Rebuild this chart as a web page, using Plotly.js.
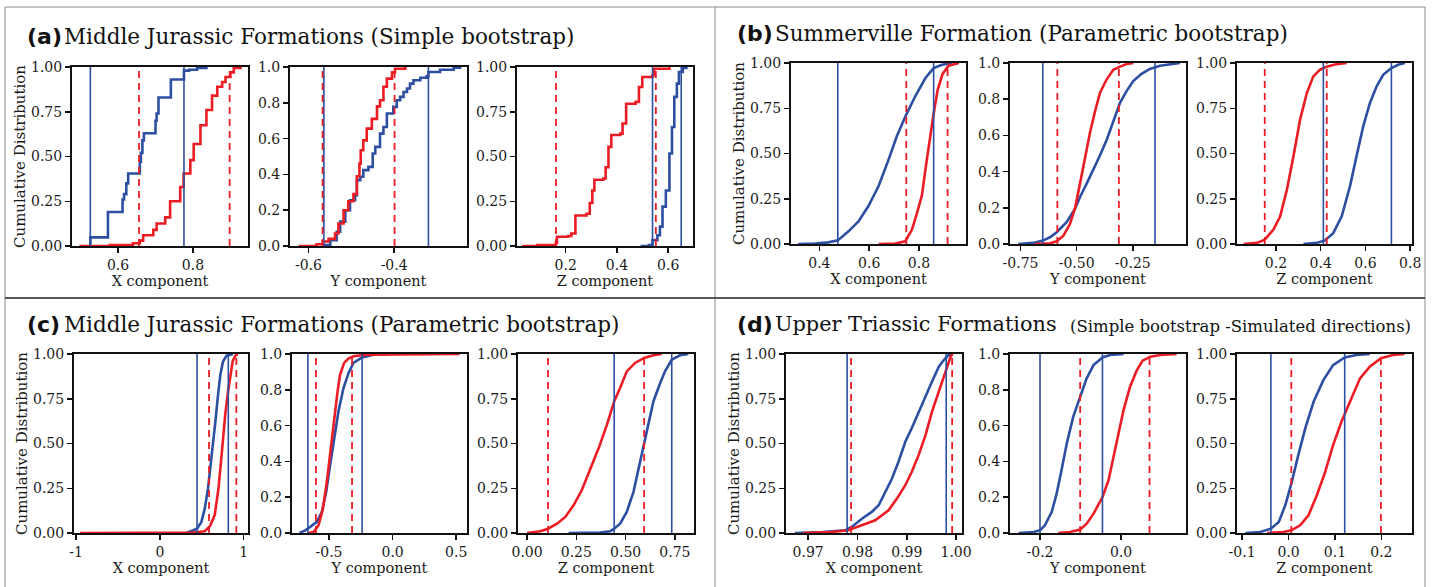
<!DOCTYPE html>
<html><head><meta charset="utf-8">
<script src="https://cdn.plot.ly/plotly-3.0.1.min.js"></script>
<style>html,body{margin:0;padding:0;background:#fff}</style>
</head><body><div id="chart" style="width:1438px;height:587px"></div>
<script>
// ---------- Panel (a): Middle Jurassic Formations (Simple bootstrap) ----------
const a1_blue_x = [0.522, 0.526, 0.573, 0.612, 0.616, 0.622, 0.627, 0.658, 0.661, 0.665, 0.669, 0.700, 0.703, 0.708, 0.741, 0.776, 0.790, 0.811, 0.836];
const a1_blue_y = [0, 0.048, 0.19, 0.26, 0.29, 0.35, 0.405, 0.47, 0.52, 0.59, 0.63, 0.70, 0.74, 0.83, 0.93, 0.98, 0.985, 0.995, 1.0];
const a1_red_x = [0.497, 0.578, 0.640, 0.658, 0.667, 0.694, 0.703, 0.726, 0.739, 0.766, 0.775, 0.793, 0.802, 0.820, 0.836, 0.851, 0.865, 0.878, 0.887, 0.900, 0.909, 0.927];
const a1_red_y = [0, 0.005, 0.015, 0.03, 0.06, 0.09, 0.126, 0.16, 0.25, 0.33, 0.405, 0.48, 0.57, 0.675, 0.76, 0.84, 0.89, 0.916, 0.944, 0.97, 0.995, 1.0];
const a1_blue_ci = [0.526, 0.776];
const a1_red_ci = [0.656, 0.898];
const a1_xticks = [0.6, 0.8];

const a2_blue_x = [-0.565, -0.549, -0.534, -0.526, -0.514, -0.503, -0.491, -0.487, -0.479, -0.472, -0.460, -0.450, -0.444, -0.433, -0.425, -0.417, -0.402, -0.394, -0.386, -0.378, -0.370, -0.363, -0.355, -0.339, -0.324, -0.320, -0.293, -0.261, -0.246];
const a2_blue_y = [0.005, 0.033, 0.08, 0.136, 0.2, 0.256, 0.284, 0.368, 0.387, 0.424, 0.442, 0.517, 0.554, 0.628, 0.665, 0.74, 0.777, 0.814, 0.833, 0.86, 0.88, 0.907, 0.926, 0.94, 0.948, 0.972, 0.985, 0.996, 1.0];
const a2_red_x = [-0.623, -0.581, -0.567, -0.553, -0.538, -0.530, -0.518, -0.507, -0.495, -0.487, -0.481, -0.478, -0.472, -0.464, -0.452, -0.440, -0.433, -0.425, -0.417, -0.405, -0.398, -0.374];
const a2_red_y = [0, 0.01, 0.025, 0.04, 0.07, 0.126, 0.2, 0.25, 0.29, 0.39, 0.46, 0.535, 0.59, 0.656, 0.71, 0.78, 0.814, 0.89, 0.935, 0.97, 0.99, 1.0];
const a2_blue_ci = [-0.564, -0.320];
const a2_red_ci = [-0.567, -0.399];
const a2_xticks = [-0.6, -0.4];

const a3_blue_x = [0.492, 0.525, 0.539, 0.558, 0.568, 0.578, 0.591, 0.605, 0.615, 0.624, 0.634, 0.642, 0.657, 0.671];
const a3_blue_y = [0, 0.006, 0.033, 0.06, 0.108, 0.22, 0.31, 0.517, 0.665, 0.833, 0.907, 0.972, 0.994, 1.0];
const a3_red_x = [0.030, 0.090, 0.162, 0.166, 0.209, 0.222, 0.238, 0.281, 0.294, 0.304, 0.312, 0.347, 0.356, 0.367, 0.378, 0.413, 0.422, 0.436, 0.473, 0.486, 0.499, 0.539, 0.545, 0.605];
const a3_red_y = [0, 0.006, 0.019, 0.052, 0.056, 0.07, 0.17, 0.18, 0.24, 0.31, 0.37, 0.377, 0.44, 0.554, 0.62, 0.628, 0.684, 0.795, 0.805, 0.888, 0.944, 0.954, 0.99, 1.0];
const a3_blue_ci = [0.539, 0.651];
const a3_red_ci = [0.162, 0.552];
const a3_xticks = [0.2, 0.4, 0.6];

// ---------- Panel (b): Summerville Formation (Parametric bootstrap) ----------
const b1_blue_x = [0.315, 0.383, 0.436, 0.474, 0.517, 0.557, 0.597, 0.638, 0.678, 0.711, 0.749, 0.785, 0.826, 0.859, 0.893, 0.933];
const b1_blue_y = [0, 0.002, 0.009, 0.02, 0.07, 0.125, 0.21, 0.32, 0.466, 0.595, 0.715, 0.816, 0.917, 0.972, 0.99, 1.0];
const b1_red_x = [0.638, 0.705, 0.745, 0.772, 0.792, 0.812, 0.830, 0.845, 0.859, 0.875, 0.895, 0.919, 0.960];
const b1_red_y = [0, 0.002, 0.015, 0.08, 0.17, 0.27, 0.45, 0.60, 0.72, 0.85, 0.94, 0.985, 1.0];
const b1_blue_ci = [0.474, 0.859];
const b1_red_ci = [0.749, 0.915];
const b1_xticks = [0.4, 0.6, 0.8];

const b2_blue_x = [-0.760, -0.693, -0.651, -0.619, -0.589, -0.545, -0.507, -0.485, -0.455, -0.426, -0.396, -0.366, -0.337, -0.307, -0.277, -0.248, -0.211, -0.174, -0.129, -0.070, -0.040];
const b2_blue_y = [0, 0.006, 0.019, 0.037, 0.065, 0.12, 0.195, 0.26, 0.335, 0.41, 0.49, 0.576, 0.678, 0.78, 0.846, 0.90, 0.94, 0.967, 0.985, 0.996, 1.0];
const b2_red_x = [-0.685, -0.619, -0.589, -0.559, -0.530, -0.507, -0.485, -0.463, -0.441, -0.418, -0.396, -0.366, -0.337, -0.307, -0.277, -0.248];
const b2_red_y = [0, 0.004, 0.015, 0.046, 0.11, 0.20, 0.335, 0.483, 0.613, 0.734, 0.836, 0.91, 0.963, 0.98, 0.994, 1.0];
const b2_blue_ci = [-0.651, -0.151];
const b2_red_ci = [-0.586, -0.312];
const b2_xticks = [-0.75, -0.5, -0.25];

const b3_blue_x = [0.323, 0.382, 0.419, 0.456, 0.494, 0.531, 0.560, 0.590, 0.620, 0.650, 0.679, 0.716, 0.746, 0.776];
const b3_blue_y = [0, 0.006, 0.02, 0.06, 0.153, 0.32, 0.484, 0.65, 0.779, 0.871, 0.935, 0.972, 0.99, 1.0];
const b3_red_x = [0.055, 0.115, 0.150, 0.189, 0.219, 0.249, 0.278, 0.308, 0.338, 0.367, 0.397, 0.427, 0.471, 0.516];
const b3_red_y = [0, 0.006, 0.024, 0.08, 0.153, 0.30, 0.484, 0.687, 0.834, 0.926, 0.963, 0.98, 0.994, 1.0];
const b3_blue_ci = [0.412, 0.716];
const b3_red_ci = [0.150, 0.427];
const b3_xticks = [0.2, 0.4, 0.6, 0.8];

// ---------- Panel (c): Middle Jurassic Formations (Parametric bootstrap) ----------
const c1_blue_x = [0.317, 0.397, 0.444, 0.496, 0.536, 0.575, 0.603, 0.635, 0.667, 0.694, 0.722, 0.754, 0.794, 0.873];
const c1_blue_y = [0, 0.015, 0.024, 0.062, 0.136, 0.249, 0.36, 0.49, 0.64, 0.77, 0.884, 0.958, 0.99, 1.0];
const c1_red_x = [-0.952, 0.40, 0.536, 0.60, 0.655, 0.70, 0.74, 0.78, 0.817, 0.845, 0.87, 0.90, 0.93];
const c1_red_y = [0, 0.002, 0.01, 0.04, 0.10, 0.25, 0.45, 0.66, 0.80, 0.90, 0.96, 0.99, 1.0];
const c1_blue_ci = [0.444, 0.817];
const c1_red_ci = [0.587, 0.913];
const c1_xticks = [-1, 0, 1];

const c2_blue_x = [-0.731, -0.687, -0.648, -0.595, -0.556, -0.522, -0.491, -0.460, -0.426, -0.386, -0.347, -0.308, -0.240, -0.151, -0.047];
const c2_blue_y = [0, 0.015, 0.034, 0.062, 0.118, 0.23, 0.38, 0.529, 0.679, 0.81, 0.893, 0.95, 0.981, 0.996, 1.0];
const c2_red_x = [-0.661, -0.621, -0.582, -0.548, -0.517, -0.486, -0.460, -0.433, -0.413, -0.381, -0.347, -0.308, -0.204, 0.527];
const c2_red_y = [0, 0.006, 0.043, 0.136, 0.286, 0.473, 0.641, 0.79, 0.884, 0.95, 0.974, 0.987, 0.996, 1.0];
const c2_blue_ci = [-0.666, -0.240];
const c2_red_ci = [-0.603, -0.319];
const c2_xticks = [-0.5, 0, 0.5];

const c3_blue_x = [0.211, 0.371, 0.422, 0.442, 0.472, 0.506, 0.54, 0.573, 0.594, 0.616, 0.641, 0.675, 0.70, 0.734, 0.776, 0.818];
const c3_blue_y = [0, 0.002, 0.01, 0.024, 0.052, 0.118, 0.23, 0.398, 0.51, 0.622, 0.735, 0.837, 0.903, 0.968, 0.993, 1.0];
const c3_red_x = [0.0, 0.067, 0.106, 0.152, 0.194, 0.236, 0.278, 0.32, 0.363, 0.405, 0.442, 0.472, 0.506, 0.548, 0.594, 0.641, 0.683];
const c3_red_y = [0, 0.01, 0.024, 0.052, 0.09, 0.155, 0.24, 0.35, 0.473, 0.604, 0.735, 0.81, 0.903, 0.95, 0.978, 0.993, 1.0];
const c3_blue_ci = [0.442, 0.734];
const c3_red_ci = [0.106, 0.594];
const c3_xticks = [0, 0.25, 0.5, 0.75];

// ---------- Panel (d): Upper Triassic Formations (Simple bootstrap - simulated directions) ----------
const d1_blue_x = [0.9673, 0.973, 0.9775, 0.9788, 0.9809, 0.9829, 0.9843, 0.9856, 0.987, 0.9883, 0.9897, 0.991, 0.9924, 0.9938, 0.9951, 0.9965, 0.9975, 0.9985, 0.9992];
const d1_blue_y = [0, 0.006, 0.015, 0.034, 0.08, 0.118, 0.155, 0.23, 0.304, 0.397, 0.51, 0.585, 0.677, 0.77, 0.845, 0.929, 0.966, 0.994, 1.0];
const d1_red_x = [0.969, 0.9748, 0.9781, 0.9809, 0.9836, 0.9863, 0.988, 0.9897, 0.991, 0.9924, 0.9938, 0.9951, 0.9965, 0.9978, 0.9989, 0.9993];
const d1_red_y = [0, 0.006, 0.015, 0.043, 0.071, 0.127, 0.192, 0.267, 0.341, 0.435, 0.547, 0.677, 0.789, 0.901, 0.985, 1.0];
const d1_blue_ci = [0.9779, 0.998];
const d1_red_ci = [0.9787, 0.9992];
const d1_xticks = [0.97, 0.98, 0.99, 1.0];

const d2_blue_x = [-0.253, -0.216, -0.200, -0.188, -0.171, -0.159, -0.147, -0.134, -0.118, -0.101, -0.085, -0.068, -0.046, -0.027, 0.006];
const d2_blue_y = [0, 0.006, 0.015, 0.043, 0.118, 0.22, 0.35, 0.5, 0.65, 0.761, 0.864, 0.938, 0.981, 0.994, 1.0];
const d2_red_x = [-0.155, -0.126, -0.101, -0.085, -0.068, -0.046, -0.031, -0.019, -0.007, 0.006, 0.022, 0.039, 0.053, 0.072, 0.096, 0.137];
const d2_red_y = [0, 0.006, 0.019, 0.052, 0.108, 0.2, 0.295, 0.425, 0.556, 0.687, 0.817, 0.91, 0.963, 0.985, 0.994, 1.0];
const d2_blue_ci = [-0.200, -0.046];
const d2_red_ci = [-0.101, 0.070];
const d2_xticks = [-0.2, 0];

const d3_blue_x = [-0.093, -0.061, -0.038, -0.021, -0.007, 0.007, 0.021, 0.036, 0.054, 0.075, 0.096, 0.121, 0.146, 0.175];
const d3_blue_y = [0, 0.006, 0.024, 0.062, 0.155, 0.285, 0.435, 0.584, 0.733, 0.854, 0.938, 0.981, 0.994, 1.0];
const d3_red_x = [-0.046, -0.011, 0.006, 0.025, 0.043, 0.061, 0.079, 0.096, 0.114, 0.132, 0.154, 0.175, 0.199, 0.225, 0.25];
const d3_red_y = [0, 0.006, 0.015, 0.043, 0.099, 0.211, 0.341, 0.491, 0.621, 0.733, 0.864, 0.929, 0.976, 0.994, 1.0];
const d3_blue_ci = [-0.038, 0.121];
const d3_red_ci = [0.006, 0.199];
const d3_xticks = [-0.1, 0, 0.1, 0.2];

const yticks_quarter = [0, 0.25, 0.5, 0.75, 1];
const yticks_fifth = [0, 0.2, 0.4, 0.6, 0.8, 1];

const panel_labels = ['(a)', '(b)', '(c)', '(d)'];
const panel_titles = ['Middle Jurassic Formations (Simple bootstrap)', 'Summerville Formation (Parametric bootstrap)', 'Middle Jurassic Formations (Parametric bootstrap)', 'Upper Triassic Formations'];
const panel_d_subtitle = '(Simple bootstrap -Simulated directions)';
const x_titles = ['X component', 'Y component', 'Z component'];
const y_title = 'Cumulative Distribution';

// ---------- drawing ----------
const W = 1438, H = 587;
const BLUE = '#2c4fa1', RED = '#ec1c24';
const FONT = 'DejaVu Serif';
const traces = [];
const layout = {
  width: W, height: H, margin: {l: 0, r: 0, t: 0, b: 0},
  paper_bgcolor: '#fff', plot_bgcolor: '#fff', showlegend: false,
  annotations: [], shapes: []
};
const axCommon = {
  showline: true, mirror: true, linecolor: '#111', linewidth: 2,
  ticks: 'outside', ticklen: 5, tickwidth: 1.5, tickcolor: '#111',
  showgrid: false, zeroline: false, fixedrange: true, layer: 'below traces',
  tickfont: {family: FONT, size: 14, color: '#1a1a1a'}
};
let n = 0;
function sub(box, xr, xticks, xdec, yticks, ydec, xtitle, showY, shape, bx, by, rx, ry, bci, rci) {
  n += 1;
  const s = n === 1 ? '' : String(n);
  layout['xaxis' + s] = Object.assign({}, axCommon, {
    domain: [box[0] / W, box[1] / W], anchor: 'y' + s, range: xr,
    tickmode: 'array', tickvals: xticks, ticktext: xticks.map(v => v.toFixed(xdec)),
    title: {text: xtitle, font: {family: FONT, size: 14.5, color: '#1a1a1a'}, standoff: 4}
  });
  layout['yaxis' + s] = Object.assign({}, axCommon, {
    domain: [1 - box[3] / H, 1 - box[2] / H], anchor: 'x' + s, range: [0, 1],
    tickmode: 'array', tickvals: yticks, ticktext: yticks.map(v => v.toFixed(ydec)),
    title: showY ? {text: y_title, font: {family: FONT, size: 15, color: '#1a1a1a'}, standoff: 2} : {text: ''}
  });
  const common = {xaxis: 'x' + s, yaxis: 'y' + s, mode: 'lines', hoverinfo: 'skip'};
  traces.push(Object.assign({x: bx, y: by, line: {color: BLUE, width: 2.6, shape: shape}}, common));
  traces.push(Object.assign({x: rx, y: ry, line: {color: RED, width: 2.6, shape: shape}}, common));
  const bvx = [], bvy = [], rvx = [], rvy = [];
  bci.forEach(v => { bvx.push(v, v, null); bvy.push(0, 1, null); });
  rci.forEach(v => { rvx.push(v, v, null); rvy.push(0, 1, null); });
  traces.push(Object.assign({x: bvx, y: bvy, line: {color: BLUE, width: 1.6}}, common));
  traces.push(Object.assign({x: rvx, y: rvy, line: {color: RED, width: 1.8, dash: '7px,5px'}}, common));
}

// panel a
sub([72, 248, 67, 246], [0.477, 0.947], a1_xticks, 1, yticks_quarter, 2, x_titles[0], true, 'hv', a1_blue_x, a1_blue_y, a1_red_x, a1_red_y, a1_blue_ci, a1_red_ci);
sub([290, 467, 67, 246], [-0.643, -0.230], a2_xticks, 1, yticks_fifth, 1, x_titles[1], false, 'hv', a2_blue_x, a2_blue_y, a2_red_x, a2_red_y, a2_blue_ci, a2_red_ci);
sub([517, 693, 67, 246], [0.01, 0.697], a3_xticks, 1, yticks_quarter, 2, x_titles[2], false, 'hv', a3_blue_x, a3_blue_y, a3_red_x, a3_red_y, a3_blue_ci, a3_red_ci);
// panel b
sub([791, 966, 63, 244], [0.286, 0.989], b1_xticks, 1, yticks_quarter, 2, x_titles[0], true, 'linear', b1_blue_x, b1_blue_y, b1_red_x, b1_red_y, b1_blue_ci, b1_red_ci);
sub([1010, 1186, 63, 244], [-0.797, -0.013], b2_xticks, 2, yticks_fifth, 1, x_titles[1], false, 'linear', b2_blue_x, b2_blue_y, b2_red_x, b2_red_y, b2_blue_ci, b2_red_ci);
sub([1237, 1412, 63, 244], [0.026, 0.808], b3_xticks, 1, yticks_quarter, 2, x_titles[2], false, 'linear', b3_blue_x, b3_blue_y, b3_red_x, b3_red_y, b3_blue_ci, b3_red_ci);
// panel c
sub([74, 248, 354, 533], [-1.024, 1.052], c1_xticks, 0, yticks_quarter, 2, x_titles[0], true, 'linear', c1_blue_x, c1_blue_y, c1_red_x, c1_red_y, c1_blue_ci, c1_red_ci);
sub([292, 467, 354, 533], [-0.791, 0.585], c2_xticks, 1, yticks_fifth, 1, x_titles[1], false, 'linear', c2_blue_x, c2_blue_y, c2_red_x, c2_red_y, c2_blue_ci, c2_red_ci);
sub([518, 694, 354, 533], [-0.046, 0.847], c3_xticks, 2, yticks_quarter, 2, x_titles[2], false, 'linear', c3_blue_x, c3_blue_y, c3_red_x, c3_red_y, c3_blue_ci, c3_red_ci);
// panel d
sub([786, 962, 354, 533], [0.9655, 1.0012], d1_xticks, 2, yticks_quarter, 2, x_titles[0], true, 'linear', d1_blue_x, d1_blue_y, d1_red_x, d1_red_y, d1_blue_ci, d1_red_ci);
sub([1010, 1186, 354, 533], [-0.274, 0.160], d2_xticks, 1, yticks_fifth, 1, x_titles[1], false, 'linear', d2_blue_x, d2_blue_y, d2_red_x, d2_red_y, d2_blue_ci, d2_red_ci);
sub([1237, 1412, 354, 533], [-0.111, 0.266], d3_xticks, 1, yticks_quarter, 2, x_titles[2], false, 'linear', d3_blue_x, d3_blue_y, d3_red_x, d3_red_y, d3_blue_ci, d3_red_ci);

// panel headings
const headPos = [[25, 62, 36, 21.5], [735, 773, 33, 21.5], [25, 62, 324, 21.5], [735, 773, 324, 20.8]];
headPos.forEach((p, i) => {
  layout.annotations.push({xref: 'paper', yref: 'paper', x: p[0] / W, y: 1 - p[2] / H, xanchor: 'left', yanchor: 'middle',
    showarrow: false, text: '<b>' + panel_labels[i] + '</b>', font: {family: 'DejaVu Sans', size: 22, color: '#111'}});
  layout.annotations.push({xref: 'paper', yref: 'paper', x: p[1] / W, y: 1 - p[2] / H, xanchor: 'left', yanchor: 'middle',
    showarrow: false, text: panel_titles[i], font: {family: FONT, size: p[3], color: '#111'}});
});
layout.annotations.push({xref: 'paper', yref: 'paper', x: 1068 / W, y: 1 - 326 / H, xanchor: 'left', yanchor: 'middle',
  showarrow: false, text: panel_d_subtitle, font: {family: FONT, size: 16.5, color: '#111'}});

// frame lines
function pline(x0, y0, x1, y1, color, w) {
  layout.shapes.push({type: 'line', xref: 'paper', yref: 'paper', x0: x0 / W, y0: 1 - y0 / H, x1: x1 / W, y1: 1 - y1 / H, line: {color: color, width: w}});
}
pline(5, 7, 1425, 7, '#8a8a8a', 1);
pline(5, 7, 5, 587, '#8a8a8a', 1);
pline(1425, 7, 1425, 587, '#8a8a8a', 1);
pline(715, 7, 715, 587, '#8a8a8a', 1);
pline(5, 298, 1425, 298, '#222', 1.5);

Plotly.newPlot('chart', traces, layout, {staticPlot: true, displayModeBar: false});
</script>
</body></html>
